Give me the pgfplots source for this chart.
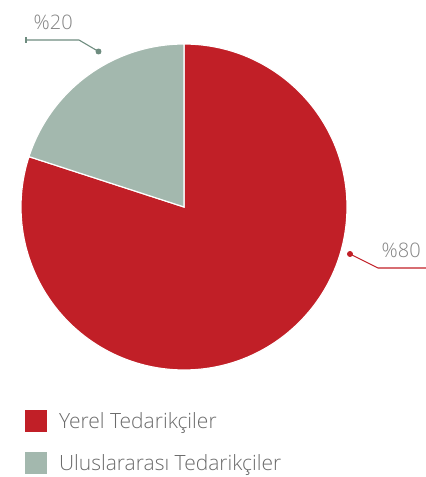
\documentclass[border=0pt]{standalone}
\usepackage{pgfplots}
\usepackage{pgfplotstable}
\pgfplotsset{compat=1.18}
\usepackage{fontspec}
\setmainfont{Open Sans}[UprightFont={* Light}]
\definecolor{pieRed}{HTML}{C11F27}
\definecolor{pieGrey}{HTML}{A3B8AE}
\definecolor{lineGrey}{HTML}{6E8C7F}
\definecolor{txt}{HTML}{6B6B6B}
\definecolor{lbl}{HTML}{858585}

\pgfplotstableread{
label value
Yerel 80
Uluslararasi 20
}\piedata

\begin{document}%
\begin{tikzpicture}
\pgfplotstablegetelem{0}{value}\of\piedata\edef\vA{\pgfplotsretval}
\pgfplotstablegetelem{1}{value}\of\piedata\edef\vB{\pgfplotsretval}
\pgfmathsetmacro\fracA{\vA/(\vA+\vB)}
\pgfmathsetmacro\aA{90-360*\fracA}
\begin{axis}[x=1pt,y=1pt,xmin=0,xmax=426,ymin=0,ymax=477,hide axis,clip=false,
 scale only axis, at={(0,0)}, anchor=south west,
 legend style={draw=none, fill=none, at={(axis cs:25,67)}, anchor=north west,
   font=\fontsize{21}{25}\selectfont, text=txt, row sep=20.5pt,
   cells={anchor=base west}, inner sep=0pt, nodes={inner sep=0pt}},
]
\fill[pieRed, draw=white, line width=1.2pt] (axis cs:184,270) -- ++(90:163pt)
  arc[start angle=90, end angle=\aA, radius=163pt] -- cycle;
\fill[pieGrey, draw=white, line width=1.2pt] (axis cs:184,270) -- ++(\aA:163pt)
  arc[start angle=\aA, end angle=-270, radius=163pt] -- cycle;

\addlegendimage{legend image code/.code={\fill[pieRed] (0pt,-3pt) rectangle (21pt,18pt); \path (33.5pt,0pt);}}
\addlegendentry{Yerel Tedarikçiler}
\addlegendimage{legend image code/.code={\fill[pieGrey] (0pt,-3pt) rectangle (21pt,18pt); \path (33.5pt,0pt);}}
\addlegendentry{Uluslararası Tedarikçiler}

\addplot[forget plot, lineGrey, line width=1.1pt, mark=*, mark size=2.4pt, mark indices={1}, mark options={fill=lineGrey}]
  coordinates {(98.5,425.5) (79,437) (26,437)};
\addplot[forget plot, lineGrey, line width=1.1pt] coordinates {(26,434.3) (26,439.7)};
\addplot[forget plot, pieRed, line width=1.1pt, mark=*, mark size=2.4pt, mark indices={1}, mark options={fill=pieRed}]
  coordinates {(350,223) (378,209) (426,209)};

\node[anchor=base west, font=\fontsize{20}{24}\selectfont, text=lbl, inner sep=0pt] at (axis cs:33.5,447) {\%20};
\node[anchor=base west, font=\fontsize{20}{24}\selectfont, text=lbl, inner sep=0pt] at (axis cs:381.5,219) {\%80};
\end{axis}
\pgfresetboundingbox
\path[use as bounding box] (0,0) rectangle (426pt,477pt);
\end{tikzpicture}%
\end{document}
